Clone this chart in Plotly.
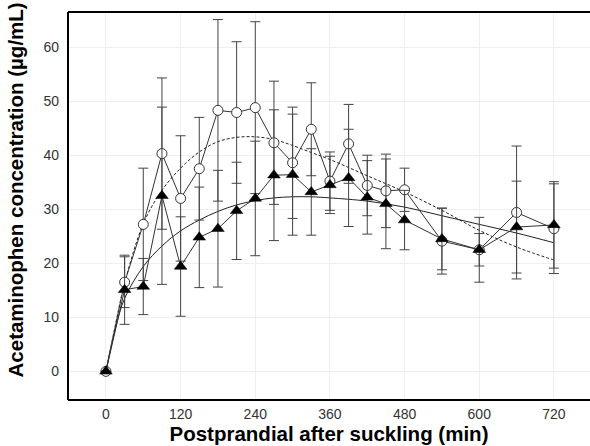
import plotly.graph_objects as go

# ---- data ----
time_min = [0, 30, 60, 90, 120, 150, 180, 210, 240, 270, 300, 330, 360, 390, 420, 450, 480, 540, 600, 660, 720]

open_mean = [0, 16.5, 27.2, 40.3, 32.0, 37.5, 48.3, 47.9, 48.8, 42.3, 38.6, 44.8, 35.2, 42.1, 34.4, 33.4, 33.6, 24.1, 22.5, 29.4, 26.4]
open_sd = [0, 4.7, 10.4, 14.0, 11.6, 9.5, 16.8, 13.1, 15.9, 11.4, 10.3, 8.6, 5.4, 7.3, 5.6, 6.8, 4.0, 6.1, 3.0, 12.3, 8.3]

filled_mean = [0, 15.1, 15.7, 32.5, 19.4, 24.8, 26.4, 29.7, 32.0, 36.3, 36.4, 33.2, 34.5, 35.8, 32.2, 31.0, 28.0, 24.5, 22.5, 26.7, 27.1]
filled_sd = [0, 6.4, 5.2, 16.4, 9.2, 9.3, 10.8, 9.0, 10.6, 12.1, 11.2, 8.0, 5.3, 9.0, 6.8, 8.3, 5.5, 5.7, 6.0, 8.5, 8.0]

fit_time = [0, 15, 30, 60, 90, 120, 150, 180, 210, 240, 270, 300, 330, 360, 420, 480, 540, 600, 660, 720]
open_fit = [0, 8.5, 16.3, 27.3, 33.5, 37.6, 40.6, 42.5, 43.3, 43.4, 42.9, 41.8, 40.5, 39.2, 36.2, 33.2, 29.8, 26.1, 23.0, 20.6]
filled_fit = [0, 7.8, 13.5, 19.4, 23.2, 26.0, 28.0, 29.6, 30.8, 31.6, 32.1, 32.3, 32.3, 32.1, 31.5, 30.4, 28.8, 27.2, 25.6, 23.8]

x_ticks = [0, 120, 240, 360, 480, 600, 720]
y_ticks = [0, 10, 20, 30, 40, 50, 60]

fig = go.Figure()

fig.add_trace(go.Scatter(
    x=fit_time, y=open_fit, mode="lines", line_shape="spline",
    line=dict(color="#222", width=1, dash="3px,2px"), showlegend=False))
fig.add_trace(go.Scatter(
    x=fit_time, y=filled_fit, mode="lines", line_shape="spline",
    line=dict(color="#222", width=1), showlegend=False))

fig.add_trace(go.Scatter(
    x=time_min, y=open_mean, mode="lines+markers",
    line=dict(color="#333", width=1),
    marker=dict(symbol="circle", size=10, color="white", line=dict(color="#333", width=1)),
    error_y=dict(type="data", array=open_sd, color="#444", thickness=1, width=5),
    showlegend=False))
fig.add_trace(go.Scatter(
    x=time_min, y=filled_mean, mode="lines+markers",
    line=dict(color="#333", width=1),
    marker=dict(symbol="triangle-up", size=11, color="black", line=dict(color="black", width=0.5)),
    error_y=dict(type="data", array=filled_sd, color="#444", thickness=1, width=5),
    showlegend=False))

# frame: left, top and bottom only (the right side is open)
frame = dict(type="line", xref="paper", yref="paper", line=dict(color="black", width=2), layer="above")
fig.add_shape(x0=0, x1=0, y0=0, y1=1, **frame)
fig.add_shape(x0=0, x1=1, y0=1, y1=1, **frame)
fig.add_shape(x0=0, x1=1, y0=0, y1=0, **frame)

# y-axis title placed as an annotation (sits a little above the plot centre in the reference)
fig.add_annotation(
    text="<b>Acetaminophen concentration (µg/mL)</b>", textangle=-90,
    xref="paper", yref="paper", x=0, y=0.54, xanchor="center", yanchor="middle",
    xshift=-53, showarrow=False, font=dict(size=20.5, color="black"))

font_family = "Liberation Sans, Arial, sans-serif"
fig.update_layout(
    width=590, height=446,
    margin=dict(l=68, r=0, t=12, b=46),
    paper_bgcolor="white", plot_bgcolor="white",
    font=dict(family=font_family, color="#333"),
    xaxis=dict(
        range=[-61, 778], tickvals=x_ticks, ticktext=[str(v) for v in x_ticks],
        showgrid=True, gridcolor="#efefef", gridwidth=1, zeroline=False,
        showline=False, ticks="",
        tickfont=dict(size=14, color="#333"), ticklabelstandoff=4,
        title=dict(text="<b>Postprandial after suckling (min)</b>",
                   font=dict(size=20.5, color="black"), standoff=0),
    ),
    yaxis=dict(
        range=[-5.3, 66.5], tickvals=y_ticks, ticktext=[str(v) for v in y_ticks],
        showgrid=True, gridcolor="#efefef", gridwidth=1, zeroline=False,
        showline=False, ticks="",
        tickfont=dict(size=14, color="#333"), ticklabelstandoff=8,
    ),
)

fig.write_html("out.html")
